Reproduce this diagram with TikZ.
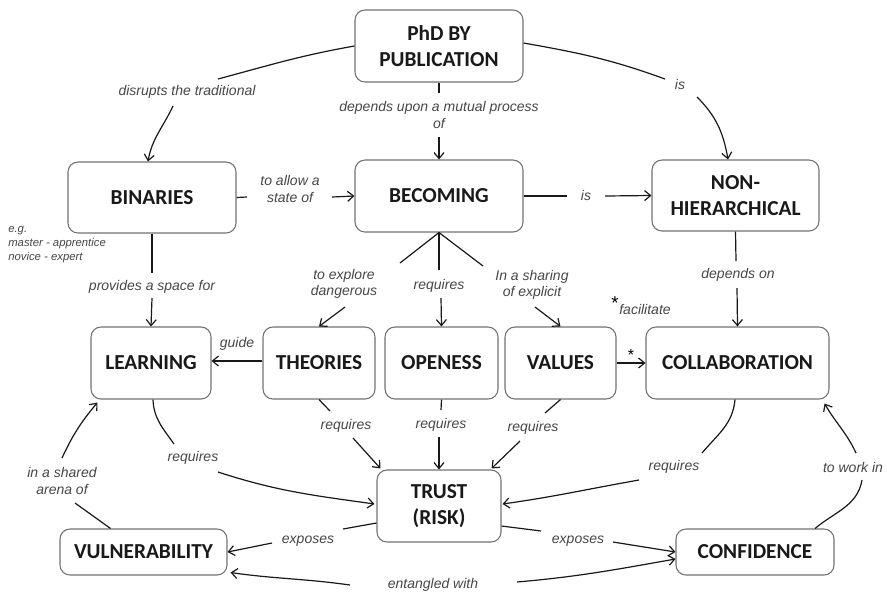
\documentclass[tikz,border=0pt]{standalone}
\usepackage{fontspec}
\setmainfont{Liberation Sans}
\newfontfamily\nodefont{Carlito}
\usetikzlibrary{arrows.meta,calc}
\tikzset{
  box/.style={draw=black!55, line width=0.8pt, rounded corners=7.5pt, align=center,
    font=\nodefont\bfseries\fontsize{16}{19.5}\selectfont, text=black!90, inner sep=2pt},
  lbl/.style={font=\itshape\fontsize{10.5}{12.5}\selectfont, text=black!72, align=center, inner sep=0pt},
  ln/.style={line width=0.9pt, black!90},
  arr/.style={ln, -{Straight Barb[length=4.5pt,width=7.5pt]}}
}
\begin{document}
\begin{tikzpicture}[x=0.75pt,y=-0.75pt]
\useasboundingbox (0,0) rectangle (887,594);
\fill[white] (0,0) rectangle (887,594);
% boxes
\node[box, minimum width=126pt, minimum height=54pt] (phd) at (439,46) {PhD BY\\PUBLICATION};
\node[box, minimum width=126pt, minimum height=53.25pt] (bin) at (152,197.5) {BINARIES};
\node[box, minimum width=126pt, minimum height=54pt] (bec) at (439,196) {BECOMING};
\node[box, minimum width=125.25pt, minimum height=53.25pt] (nonh) at (735.5,195.5) {NON-\\HIERARCHICAL};
\node[box, minimum width=90pt, minimum height=54pt] (learn) at (151,363) {LEARNING};
\node[box, minimum width=84pt, minimum height=54pt] (theo) at (319,363) {THEORIES};
\node[box, minimum width=84.75pt, minimum height=54pt] (open) at (441.5,363) {OPENESS};
\node[box, minimum width=83.25pt, minimum height=54pt] (val) at (560.5,363) {VALUES};
\node[box, minimum width=137.25pt, minimum height=54pt] (coll) at (737.5,363) {COLLABORATION};
\node[box, minimum width=93pt, minimum height=54pt] (trust) at (439,506) {TRUST\\(RISK)};
\node[box, minimum width=125.25pt, minimum height=34.5pt] (vuln) at (143.5,552) {VULNERABILITY};
\node[box, minimum width=118.5pt, minimum height=34.5pt] (conf) at (755,552) {CONFIDENCE};
% labels
\node[lbl] (L1) at (187,92) {disrupts the traditional};
\node[lbl] (L2) at (439,115) {depends upon a mutual process\\of};
\node[lbl] (L3) at (680,84) {is};
\node[lbl] (L4) at (290,189) {to allow a\\state of};
\node[lbl] (L5) at (586,195) {is};
\node[lbl] (L6) at (152,287) {provides a space for};
\node[lbl] (L7) at (344,284) {to explore\\dangerous};
\node[lbl] (L8) at (439,286) {requires};
\node[lbl] (L9) at (532,285) {In a sharing\\of explicit};
\node[lbl, text=black, font=\fontsize{12}{12}\selectfont] (L10) at (631,355) {*};
\node[lbl, text=black, font=\fontsize{14}{14}\selectfont] (Fs) at (615,303) {*};
\node[lbl] (F) at (645,309) {facilitate};
\node[lbl] (L11) at (738,275) {depends on};
\node[lbl] (L12) at (237,344) {guide};
\node[lbl] (L13) at (346,426) {requires};
\node[lbl] (L14) at (441,425) {requires};
\node[lbl] (L15) at (533,428) {requires};
\node[lbl] (L16) at (193,458) {requires};
\node[lbl] (L17) at (674,467) {requires};
\node[lbl] (L18) at (308,541) {exposes};
\node[lbl] (L19) at (578,541) {exposes};
\node[lbl] (L20) at (433,585) {entangled with};
\node[lbl] (L21) at (62,481) {in a shared\\arena of};
\node[lbl] (L22) at (853,467) {to work in};
\node[lbl, align=left, anchor=west, font=\itshape\fontsize{8.5}{10.5}\selectfont] (eg) at (8,245) {e.g.\\master - apprentice\\novice - expert};
% connectors
\draw[ln] (phd.west) to[out=190,in=15] ($(L1)+(31,-13)$);
\draw[arr] ($(L1)+(-14,14)$) to[out=-115,in=80] ($(bin.north)+(-4,0)$);
\draw[ln] (phd.south) -- ($(L2)+(0,-22)$);
\draw[arr] ($(L2)+(0,22)$) -- (bec.north);
\draw[ln] ($(phd.east)+(0,-3)$) to[out=-10,in=160] ($(L3)+(-15,-5)$);
\draw[arr] ($(L3)+(17,13)$) to[out=-45,in=100] ($(nonh.north)+(-7.5,0)$);
\draw[ln] (bin.east) -- ($(L4)+(-43,8)$);
\draw[arr] ($(L4)+(42,8)$) -- (bec.west);
\draw[ln] (bec.east) -- ($(L5)+(-19,1)$);
\draw[arr] ($(L5)+(19,1)$) -- (nonh.west);
\draw[ln] (bin.south) -- ($(L6)+(0,-14)$);
\draw[arr] ($(L6)+(0,11)$) -- (learn.north);
\draw[ln] (bec.south) -- ($(L7)+(56,-21)$);
\draw[arr] ($(L7)+(1,23)$) -- (theo.north);
\draw[ln] (bec.south) -- ($(L8)+(0,-16)$);
\draw[arr] ($(L8)+(2,12)$) -- (open.north);
\draw[ln] (bec.south) -- ($(L9)+(-49,-19)$);
\draw[arr] ($(L9)+(3,22)$) -- (val.north);
\draw[arr] (val.east) -- (coll.west);
\draw[ln] (nonh.south) -- ($(L11)+(-2,-14)$);
\draw[arr] ($(L11)+(-1,13)$) -- (coll.north);
\draw[arr] ($(theo.west)+(0,-2)$) -- ($(learn.east)+(0,-2)$);
\draw[ln] (theo.south) -- ($(L13)+(-16,-15)$);
\draw[arr] ($(L13)+(7,12)$) -- ($(trust.north west)+(4,-1)$);
\draw[ln] (open.south) -- ($(L14)+(0,-15)$);
\draw[arr] ($(L14)+(-2,12)$) -- (trust.north);
\draw[ln] (val.south) -- ($(L15)+(12,-15)$);
\draw[arr] ($(L15)+(-13,13)$) -- ($(trust.north east)+(-10,-1)$);
\draw[ln] ($(learn.south)+(2,0)$) to[out=-88,in=125] ($(L16)+(-19,-14)$);
\draw[arr] ($(L16)+(25,14)$) to[out=-18,in=172] ($(trust.west)+(-2,-2)$);
\draw[ln] ($(coll.south)+(-2.5,0)$) to[out=-95,in=50] ($(L17)+(28,-14)$);
\draw[arr] ($(L17)+(-35,13)$) to[out=190,in=8] ($(trust.east)+(1,-2)$);
\draw[ln] ($(trust.west)+(0,17)$) -- ($(L18)+(35,-12)$);
\draw[arr] ($(L18)+(-36,2)$) -- (vuln.east);
\draw[ln] ($(trust.east)+(0,20)$) -- ($(L19)+(-37,-10)$);
\draw[arr] ($(L19)+(35,1)$) -- (conf.west);
\draw[arr] ($(L20)+(-83,0)$) to[out=172,in=-8] ($(vuln.south east)+(3,-3)$);
\draw[arr] ($(L20)+(84,-3)$) to[out=5,in=190] ($(conf.west)+(0,7)$);
\draw[ln] ($(vuln.north)+(-33,0)$) -- ($(L21)+(13,22)$);
\draw[arr] ($(L21)+(0,-23)$) to[out=65,in=-130] ($(learn.south west)+(7,3)$);
\draw[ln] ($(conf.north)+(60,0)$) to[out=40,in=-100] ($(L22)+(9,13)$);
\draw[arr] ($(L22)+(3,-14)$) to[out=115,in=-60] ($(coll.south east)+(-5,4)$);
\end{tikzpicture}
\end{document}
